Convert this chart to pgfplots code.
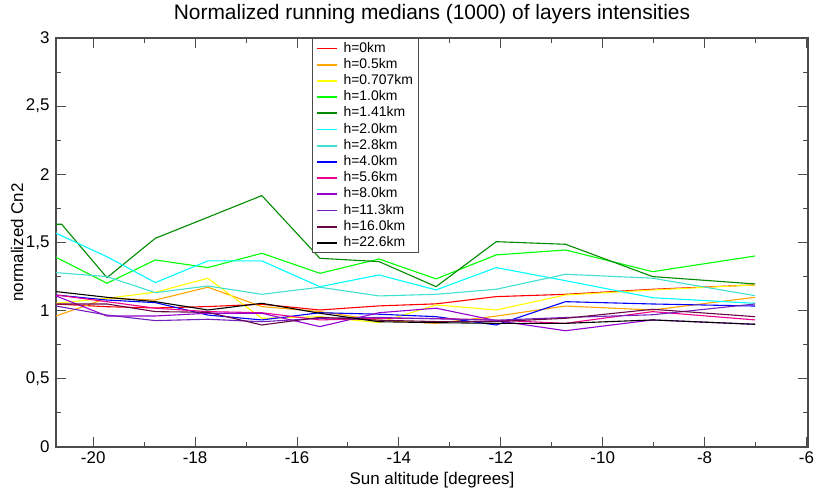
\documentclass[border=0pt]{standalone}
\usepackage{pgfplots}
\pgfplotsset{compat=1.18}
\usepackage{fontspec}
\setmainfont{Liberation Sans}
\definecolor{gorange}{RGB}{255,165,0}
\definecolor{gyellow}{RGB}{255,255,0}
\definecolor{ggreen}{RGB}{0,255,0}
\definecolor{ggreenIV}{RGB}{0,139,0}
\definecolor{gcyan}{RGB}{0,255,255}
\definecolor{gturq}{RGB}{64,224,208}
\definecolor{gviolet}{RGB}{148,0,211}
\definecolor{gindigo}{RGB}{114,33,188}
\definecolor{gmaroon}{RGB}{103,7,72}
\begin{document}
\begin{tikzpicture}
\begin{axis}[
  scale only axis,
  width=752bp, height=409bp,
  xmin=-20.73, xmax=-5.97,
  ymin=0, ymax=3,
  xtick={-20,-18,...,-6},
  ytick={0,0.5,...,3},
  minor x tick num=1,
  minor y tick num=1,
  tick align=inside,
  xtick pos=both, ytick pos=both,
  major tick length=10bp,
  minor tick length=5bp,
  axis line style={black!70, line width=1.1bp},
  every tick/.style={black!70, line width=0.9bp},
  /pgf/number format/assume math mode=true,
  /pgf/number format/use comma,
  tick label style={font=\fontsize{17}{20}\selectfont},
  xticklabel style={yshift=-1.5bp},
  yticklabel style={xshift=-3bp},
  title={Normalized running medians (1000) of layers intensities},
  title style={at={(rel axis cs:0.5,1)}, anchor=base, yshift=13bp, font=\fontsize{21}{25}\selectfont},
  xlabel={Sun altitude [degrees]},
  xlabel style={at={(rel axis cs:0.5,0)}, anchor=base, yshift=-37bp, font=\fontsize{17}{20}\selectfont},
  ylabel={normalized Cn2},
  ylabel style={at={(rel axis cs:0,0.5)}, anchor=base, yshift=33bp, font=\fontsize{17}{20}\selectfont},
  legend cell align=left,
  legend style={at={(rel axis cs:0.3404,1)}, anchor=north west,
    draw=black!70, line width=1bp, fill=white,
    font=\fontsize{14}{16}\selectfont,
    inner xsep=4bp, inner ysep=2bp,
    row sep=0.2bp, column sep=4bp,
    nodes={inner sep=1.5bp, text depth=3bp, text height=10bp}},
  legend image code/.code={\draw[#1, line width=1.6bp] (0bp,0bp) -- (20bp,0bp);},
  every axis plot/.append style={line width=1.1bp},
]
\addplot[red] coordinates {(-20.73,1.049) (-19.73,1.029) (-18.78,1.02) (-17.75,1.03) (-16.69,1.047) (-15.55,1.005) (-14.39,1.035) (-13.27,1.05) (-12.09,1.103) (-10.73,1.12) (-9.02,1.157) (-7.01,1.189)};
\addlegendentry{h=0km}
\addplot[gorange] coordinates {(-20.73,0.961) (-19.73,1.091) (-18.78,1.078) (-17.75,1.172) (-16.69,1.03) (-15.55,0.993) (-14.39,0.93) (-13.27,0.907) (-12.09,0.96) (-10.73,1.034) (-9.02,1.005) (-7.01,1.098)};
\addlegendentry{h=0.5km}
\addplot[gyellow] coordinates {(-20.73,1.054) (-19.73,1.091) (-18.78,1.135) (-17.75,1.238) (-16.69,0.944) (-15.55,0.956) (-14.39,0.912) (-13.27,1.042) (-12.09,1.005) (-10.73,1.115) (-9.02,1.152) (-7.01,1.189)};
\addlegendentry{h=0.707km}
\addplot[ggreen] coordinates {(-20.73,1.392) (-19.73,1.201) (-18.78,1.372) (-17.75,1.316) (-16.69,1.421) (-15.55,1.274) (-14.39,1.379) (-13.27,1.233) (-12.09,1.409) (-10.73,1.445) (-9.02,1.286) (-7.01,1.401)};
\addlegendentry{h=1.0km}
\addplot[ggreenIV] coordinates {(-20.73,1.634) (-20.62,1.634) (-19.73,1.242) (-18.78,1.531) (-17.75,1.685) (-16.69,1.844) (-15.55,1.384) (-14.39,1.36) (-13.27,1.176) (-12.09,1.506) (-10.73,1.487) (-9.02,1.25) (-7.01,1.196)};
\addlegendentry{h=1.41km}
\addplot[gcyan] coordinates {(-20.73,1.568) (-19.73,1.396) (-18.78,1.206) (-17.75,1.365) (-16.69,1.365) (-15.55,1.176) (-14.39,1.262) (-13.27,1.152) (-12.09,1.316) (-10.73,1.22) (-9.02,1.095) (-7.01,1.054)};
\addlegendentry{h=2.0km}
\addplot[gturq] coordinates {(-20.73,1.279) (-19.73,1.25) (-18.78,1.132) (-17.75,1.181) (-16.69,1.12) (-15.55,1.172) (-14.39,1.108) (-13.27,1.12) (-12.09,1.157) (-10.73,1.267) (-9.02,1.238) (-7.01,1.11)};
\addlegendentry{h=2.8km}
\addplot[blue] coordinates {(-20.73,1.115) (-19.73,1.078) (-18.78,1.059) (-17.75,0.968) (-16.69,0.932) (-15.55,0.985) (-14.39,0.974) (-13.27,0.956) (-12.09,0.895) (-10.73,1.066) (-9.02,1.049) (-7.01,1.034)};
\addlegendentry{h=4.0km}
\addplot[magenta] coordinates {(-20.73,1.115) (-19.73,1.066) (-18.78,1.018) (-17.75,0.993) (-16.69,0.985) (-15.55,0.932) (-14.39,0.944) (-13.27,0.944) (-12.09,0.93) (-10.73,0.907) (-9.02,0.993) (-7.01,0.932)};
\addlegendentry{h=5.6km}
\addplot[gviolet] coordinates {(-20.73,1.108) (-19.73,0.961) (-18.78,0.961) (-17.75,0.981) (-16.69,0.981) (-15.55,0.883) (-14.39,0.985) (-13.27,1.018) (-12.09,0.927) (-10.73,0.853) (-9.02,0.932) (-7.01,0.9)};
\addlegendentry{h=8.0km}
\addplot[gindigo] coordinates {(-20.73,1.034) (-19.73,0.968) (-18.78,0.927) (-17.75,0.937) (-16.69,0.919) (-15.55,0.944) (-14.39,0.95) (-13.27,0.94) (-12.09,0.93) (-10.73,0.95) (-9.02,0.97) (-7.01,1.049)};
\addlegendentry{h=11.3km}
\addplot[gmaroon] coordinates {(-20.73,1.049) (-19.73,1.049) (-18.78,0.993) (-17.75,0.988) (-16.69,0.895) (-15.55,0.951) (-14.39,0.93) (-13.27,0.92) (-12.09,0.92) (-10.73,0.944) (-9.02,1.01) (-7.01,0.956)};
\addlegendentry{h=16.0km}
\addplot[black] coordinates {(-20.73,1.14) (-19.73,1.098) (-18.78,1.066) (-17.75,1.005) (-16.69,1.054) (-15.55,0.981) (-14.39,0.919) (-13.27,0.912) (-12.09,0.907) (-10.73,0.907) (-9.02,0.932) (-7.01,0.9)};
\addlegendentry{h=22.6km}
\end{axis}
\pgfresetboundingbox
\path[use as bounding box] (-56bp,-41bp) rectangle (761bp,447bp);
\end{tikzpicture}
\end{document}
